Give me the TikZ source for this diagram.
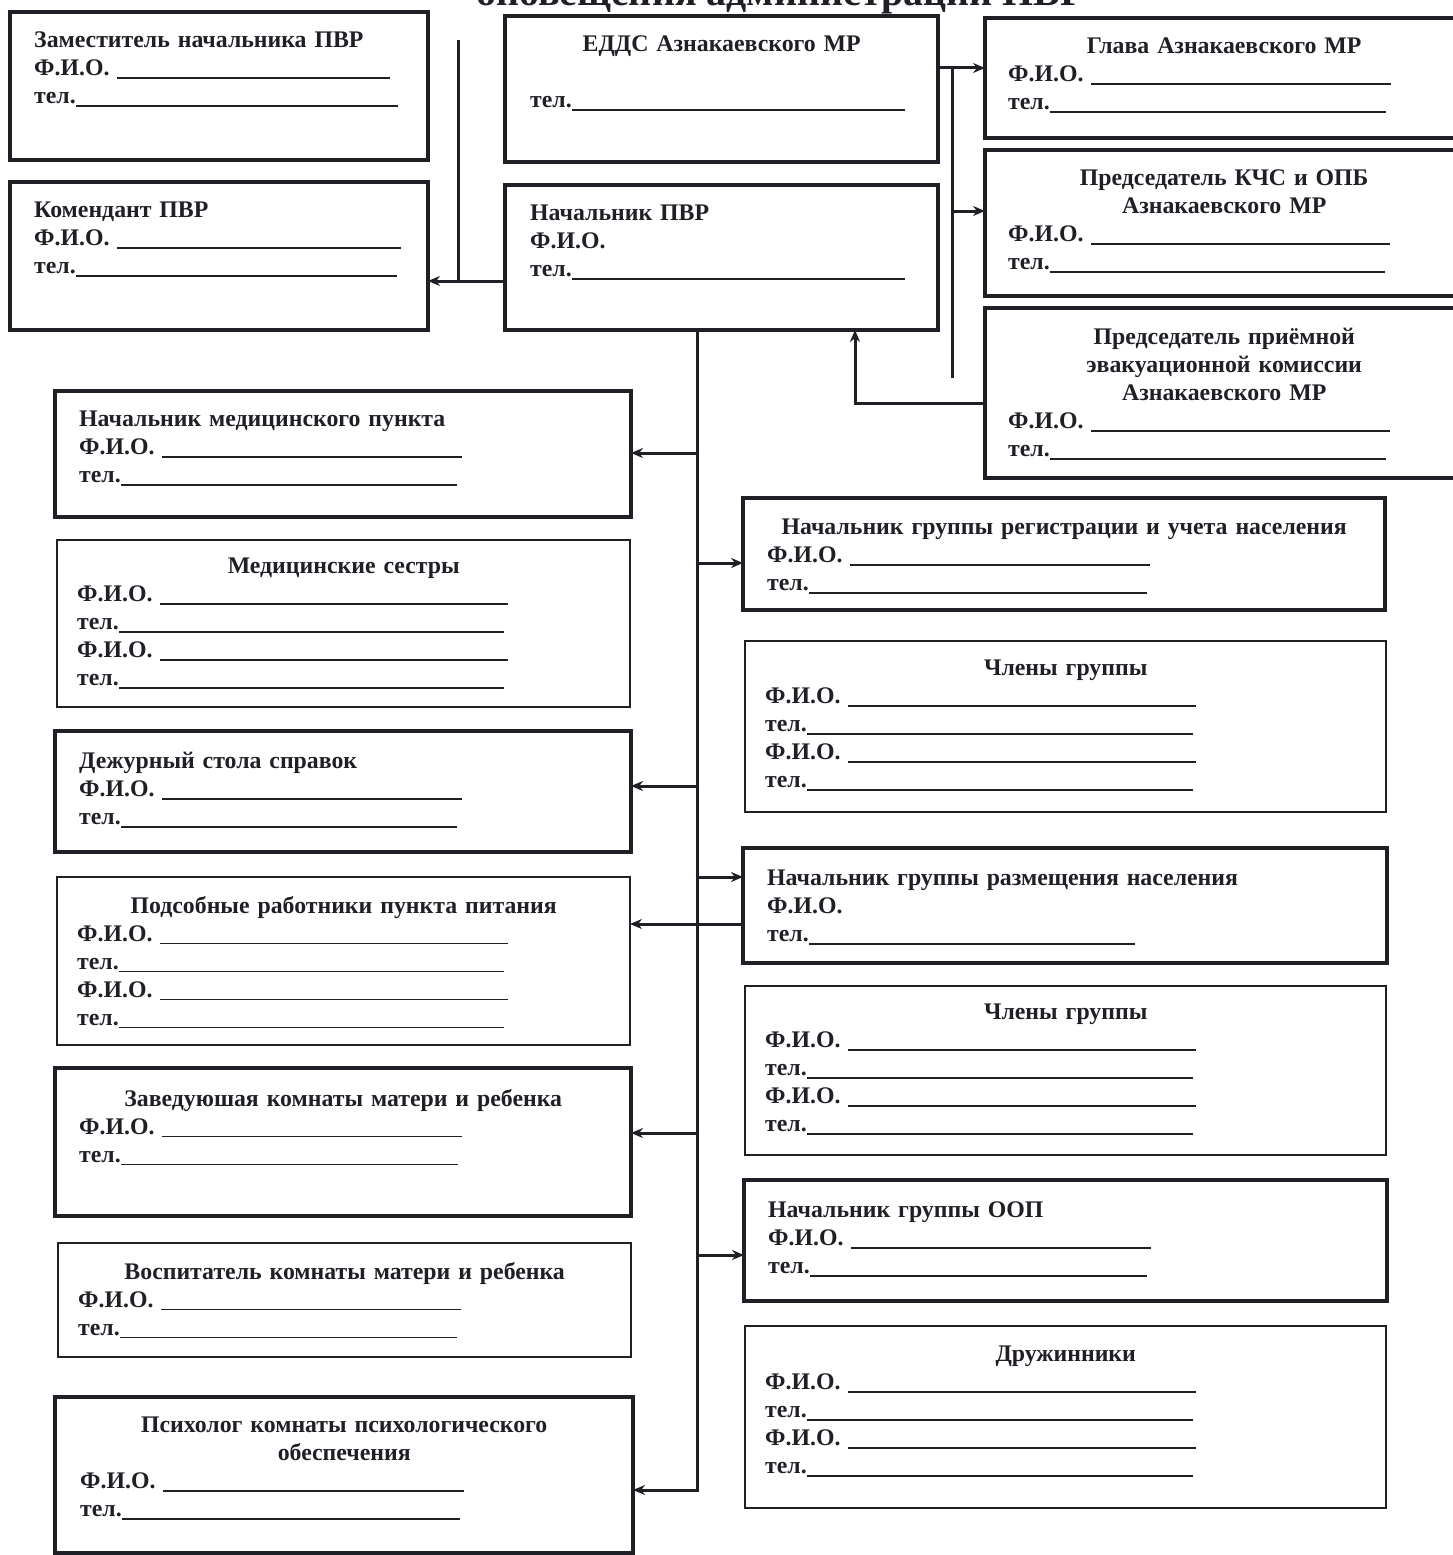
\documentclass[tikz,border=0pt]{standalone}
\usepackage{fontspec}
\setmainfont{Liberation Serif}
\usetikzlibrary{arrows.meta,calc}
\definecolor{ink}{HTML}{1F1F26}
\setlength{\parindent}{0pt}
\setlength{\parskip}{0pt}
\newcommand{\blank}{\leaders\hrule height -1.5pt depth 3pt\hfill}
\newcommand{\fio}[1][383pt]{\makebox[#1][l]{Ф.И.О.\ \blank}}
\newcommand{\tel}[1][379pt]{\makebox[#1][l]{тел.\blank}}
\tikzset{
    card/.style 2 args={draw=ink, line width=4.5pt, minimum width=#1, minimum height=#2,
        anchor=north west, inner sep=0pt, outer sep=0pt},
    flat/.style 2 args={card={#1}{#2}, line width=1.6pt},
    lines/.style={anchor=north west, text width=#1, inner sep=0pt, text=ink,
        font=\fontsize{23.8}{28}\selectfont\bfseries},
    link/.style={draw=ink, line width=3pt},
    arr/.style={link, -{Stealth[length=12pt,width=10pt]}}
}

\begin{document}
\begin{tikzpicture}[x=1pt,y=1pt]
    \useasboundingbox (0,0) rectangle (1453,-1555);

    \node[anchor=base east, inner sep=0pt, text=ink, font=\fontsize{40}{44}\selectfont\bfseries]
        (title) at (1085,-6) {оповещения администрации ПВР};

    % top row
    \node[card={418}{148}] (zam) at (10,-12) {};
    \node[lines=370] (zamT) at ([shift={(24,-20)}]zam.north west)
        {Заместитель начальника ПВР\\ \fio[356pt]\\ \tel[364pt]};
    \node[card={418}{148}] (komend) at (10,-182) {};
    \node[lines=370] (komendT) at ([shift={(24,-20)}]komend.north west)
        {Комендант ПВР\\ \fio[367pt]\\ \tel[363pt]};

    \node[card={433}{146}] (edds) at (505,-16) {};
    \node[lines=383] (eddsT) at ([shift={(25,-20)}]edds.north west)
        {{\centering ЕДДС Азнакаевского МР\par}\mbox{}\\ \tel[375pt]};
    \node[card={433}{145}] (nach) at (505,-185) {};
    \node[lines=383] (nachT) at ([shift={(25,-20)}]nach.north west)
        {Начальник ПВР\\ Ф.И.О.\\ \tel[375pt]};

    \node[card={478}{120}] (glava) at (985,-18) {};
    \node[lines=432] (glavaT) at ([shift={(23,-20)}]glava.north west)
        {{\centering Глава Азнакаевского МР\par}\fio\\ \tel[378pt]};
    \node[card={478}{146}] (kchs) at (985,-150) {};
    \node[lines=432] (kchsT) at ([shift={(23,-20)}]kchs.north west)
        {{\centering Председатель КЧС и ОПБ\\ Азнакаевского МР\par}\fio[382pt]\\ \tel[377pt]};
    \node[card={478}{170}] (pek) at (985,-308) {};
    \node[lines=432] (pekT) at ([shift={(23,-20)}]pek.north west)
        {{\centering Председатель приёмной\\ эвакуационной комиссии\\ Азнакаевского МР\par}\fio[382pt]\\ \tel[378pt]};

    % left column
    \node[card={576}{126}] (med) at (55,-391) {};
    \node[lines=528] (medT) at ([shift={(24,-20)}]med.north west)
        {Начальник медицинского пункта\\ \fio\\ \tel[378pt]};
    \node[flat={573}{167}] (sestry) at (57,-540) {};
    \node[lines=533] (sestryT) at ([shift={(20,-18)}]sestry.north west)
        {{\centering Медицинские сестры\par}\fio[431pt]\\ \tel[427pt]\\ \fio[431pt]\\ \tel[427pt]};
    \node[card={576}{121}] (dezh) at (55,-731) {};
    \node[lines=528] (dezhT) at ([shift={(24,-21)}]dezh.north west)
        {Дежурный стола справок\\ \fio\\ \tel[378pt]};
    \node[flat={573}{168}] (podsob) at (57,-877) {};
    \node[lines=533] (podsobT) at ([shift={(20,-19)}]podsob.north west)
        {{\centering Подсобные работники пункта питания\par}\fio[431pt]\\ \tel[427pt]\\ \fio[431pt]\\ \tel[427pt]};
    \node[card={576}{148}] (zav) at (55,-1068) {};
    \node[lines=528] (zavT) at ([shift={(24,-21)}]zav.north west)
        {{\centering Заведуюшая комнаты матери и ребенка\par}\fio\\ \tel};
    \node[flat={573}{114}] (vosp) at (58,-1243) {};
    \node[lines=533] (vospT) at ([shift={(20,-19)}]vosp.north west)
        {{\centering Воспитатель комнаты матери и ребенка\par}\fio\\ \tel};
    \node[card={578}{156}] (psych) at (55,-1397) {};
    \node[lines=528] (psychT) at ([shift={(25,-20)}]psych.north west)
        {{\centering Психолог комнаты психологического\\ обеспечения\par}\fio[384pt]\\ \tel[380pt]};

    % right column
    \node[card={642}{112}] (reg) at (743,-498) {};
    \node[lines=594] (regT) at ([shift={(24,-21)}]reg.north west)
        {{\centering Начальник группы регистрации и учета населения\par}\fio\\ \tel[380pt]};
    \node[flat={641}{171}] (chl1) at (745,-641) {};
    \node[lines=601] (chl1T) at ([shift={(20,-19)}]chl1.north west)
        {{\centering Члены группы\par}\fio[431pt]\\ \tel[428pt]\\ \fio[431pt]\\ \tel[428pt]};
    \node[card={644}{115}] (razm) at (743,-848) {};
    \node[lines=596] (razmT) at ([shift={(24,-22)}]razm.north west)
        {Начальник группы размещения населения\\ Ф.И.О.\\ \tel[368pt]};
    \node[flat={641}{169}] (chl2) at (745,-986) {};
    \node[lines=601] (chl2T) at ([shift={(20,-18)}]chl2.north west)
        {{\centering Члены группы\par}\fio[431pt]\\ \tel[428pt]\\ \fio[431pt]\\ \tel[428pt]};
    \node[card={643}{121}] (oop) at (744,-1180) {};
    \node[lines=595] (oopT) at ([shift={(24,-22)}]oop.north west)
        {Начальник группы ООП\\ \fio\\ \tel};
    \node[flat={641}{182}] (druzh) at (745,-1326) {};
    \node[lines=601] (druzhT) at ([shift={(20,-20)}]druzh.north west)
        {{\centering Дружинники\par}\fio[431pt]\\ \tel[428pt]\\ \fio[431pt]\\ \tel[428pt]};

    % links at the top
    \coordinate (kk) at (458,-281);
    \coordinate (kup) at (458,-40);
    \draw[link] (kup) -- (kk);
    \draw[arr] (kk -| nach.west) -- (kk -| komend.east);

    \coordinate (gg) at (952,-68);
    \coordinate (gdn) at (952,-378);
    \coordinate (kc) at (952,-211);
    \draw[arr] (gg -| edds.east) -- (gg -| glava.west);
    \draw[link] (gg) -- (gdn);
    \draw[arr] (kc) -- (kc -| kchs.west);

    \coordinate (pk) at (855,-403);
    \draw[arr] (pk -| pek.west) -- (pk) -- (pk |- nach.south);

    % spine
    \coordinate (sp) at (697,-1490);
    \draw[arr] (nach.south -| sp) -- (sp) -- (sp -| psych.east);
    \foreach \n/\y in {med/453,dezh/786,zav/1133}{
        \coordinate (t) at (697,-\y);
        \draw[arr] (t) -- (t -| \n.east);
    }
    \foreach \n/\y in {reg/563,razm/877,oop/1255}{
        \coordinate (t) at (697,-\y);
        \draw[arr] (t) -- (t -| \n.west);
    }
    \coordinate (pp) at (697,-924);
    \draw[arr] (pp -| razm.west) -- (pp -| podsob.east);

\end{tikzpicture}
\end{document}
